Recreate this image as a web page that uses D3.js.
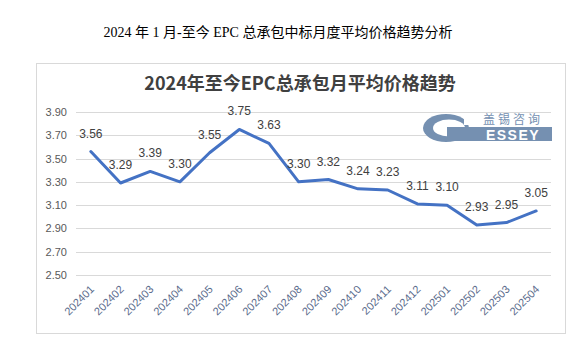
<!DOCTYPE html>
<html>
<head>
<meta charset="utf-8">
<script src="https://cdn.jsdelivr.net/npm/d3@7"></script>
<style>
  html, body { margin: 0; padding: 0; background: #fff; }
  svg { display: block; }
</style>
</head>
<body>
<svg id="chart" width="586" height="350"></svg>
<script>
// Monthly average EPC prices
const months = ["202401","202402","202403","202404","202405","202406","202407","202408",
                "202409","202410","202411","202412","202501","202502","202503","202504"];
const prices = [3.56, 3.29, 3.39, 3.30, 3.55, 3.75, 3.63, 3.30,
                3.32, 3.24, 3.23, 3.11, 3.10, 2.93, 2.95, 3.05];
const yTicks = [2.50, 2.70, 2.90, 3.10, 3.30, 3.50, 3.70, 3.90];

const pageTitle = "2024 年 1 月-至今 EPC 总承包中标月度平均价格趋势分析";
const chartTitle = "2024年至今EPC总承包月平均价格趋势";

const svg = d3.select("#chart");
const sans = "'Liberation Sans', Arial, 'Noto Sans CJK SC', sans-serif";

// Page heading
svg.append("text")
  .attr("x", 278).attr("y", 37)
  .attr("text-anchor", "middle")
  .attr("font-family", "'Liberation Serif', 'Noto Sans CJK SC', serif")
  .attr("font-size", 14)
  .attr("fill", "#000")
  .text(pageTitle);

// Chart frame
svg.append("rect")
  .attr("x", 36.5).attr("y", 63.5)
  .attr("width", 529).attr("height", 270)
  .attr("fill", "#fff")
  .attr("stroke", "#d9d9d9");

// Chart title
svg.append("text")
  .attr("x", 300).attr("y", 90)
  .attr("text-anchor", "middle")
  .attr("font-family", "'Noto Sans CJK SC', sans-serif")
  .attr("font-weight", "bold")
  .attr("font-size", 18)
  .attr("fill", "#404040")
  .text(chartTitle);

const plot = { left: 76, right: 551, top: 112, bottom: 275 };

const x = d3.scaleBand().domain(months).range([plot.left, plot.right]);
const y = d3.scaleLinear().domain([2.5, 3.9]).range([plot.bottom, plot.top]);

// Gridlines
svg.append("g")
  .selectAll("line")
  .data(yTicks)
  .join("line")
  .attr("x1", plot.left).attr("x2", plot.right)
  .attr("y1", d => Math.round(y(d)) + 0.5)
  .attr("y2", d => Math.round(y(d)) + 0.5)
  .attr("stroke", "#d9d9d9");

// Y axis labels
const yAxis = d3.axisLeft(y).tickValues(yTicks).tickFormat(d3.format(".2f")).tickSize(0).tickPadding(9);
const gy = svg.append("g").attr("transform", `translate(${plot.left},0)`).call(yAxis);
gy.select(".domain").remove();
gy.selectAll("text")
  .attr("font-family", sans)
  .attr("font-size", 11)
  .attr("fill", "#595959");

// X axis labels, rotated
const xAxis = d3.axisBottom(x).tickSize(0).tickPadding(0);
const gx = svg.append("g").attr("transform", `translate(0,${plot.bottom})`).call(xAxis);
gx.select(".domain").remove();
gx.selectAll(".tick text")
  .attr("font-family", sans)
  .attr("font-size", 11)
  .attr("fill", "#5a6b8c")
  .attr("text-anchor", "end")
  .attr("dy", null)
  .attr("y", 0)
  .attr("transform", "translate(4,15) rotate(-45)");

// Watermark logo
const logo = svg.append("g").attr("transform", "translate(423,113)");
const logoBlue = "#7590b1";
logo.append("ellipse").attr("cx", 23).attr("cy", 15).attr("rx", 23).attr("ry", 14).attr("fill", logoBlue);
logo.append("ellipse").attr("cx", 26).attr("cy", 15).attr("rx", 16).attr("ry", 8.5).attr("fill", "#fff");
logo.append("rect").attr("x", 24).attr("y", 14).attr("width", 105).attr("height", 14).attr("fill", logoBlue);
logo.append("rect").attr("x", 41).attr("y", 0).attr("width", 88).attr("height", 12).attr("fill", "#fff");
logo.append("text")
  .attr("x", 90).attr("y", 10.5)
  .attr("text-anchor", "middle")
  .attr("font-family", "'Noto Sans CJK SC', sans-serif")
  .attr("font-size", 12)
  .attr("letter-spacing", 3)
  .attr("fill", logoBlue)
  .text("盖锡咨询");
logo.append("text")
  .attr("x", 90).attr("y", 27)
  .attr("text-anchor", "middle")
  .attr("font-family", "'Liberation Sans', Arial, sans-serif")
  .attr("font-weight", "bold")
  .attr("font-size", 14)
  .attr("letter-spacing", 1.5)
  .attr("fill", "#fff")
  .text("ESSEY");

// Price line
const cx = d => x(d) + x.bandwidth() / 2;
const line = d3.line()
  .x((d, i) => cx(months[i]))
  .y(d => y(d));

svg.append("path")
  .datum(prices)
  .attr("d", line)
  .attr("fill", "none")
  .attr("stroke", "#4472c4")
  .attr("stroke-width", 3)
  .attr("stroke-linejoin", "round")
  .attr("stroke-linecap", "round");

// Value labels
svg.append("g")
  .selectAll("text")
  .data(prices)
  .join("text")
  .attr("x", (d, i) => cx(months[i]))
  .attr("y", d => y(d) - 14)
  .attr("text-anchor", "middle")
  .attr("font-family", sans)
  .attr("font-size", 12)
  .attr("fill", "#404040")
  .text(d => d.toFixed(2));
</script>
</body>
</html>
